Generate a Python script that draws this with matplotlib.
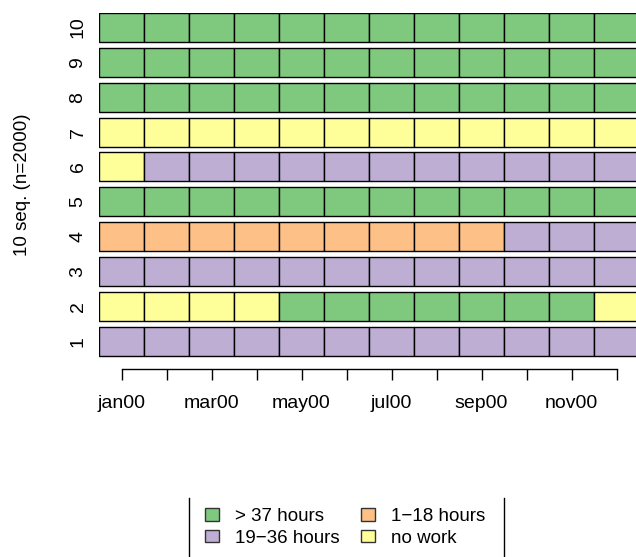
import numpy as np
import matplotlib
matplotlib.use('Agg')
import matplotlib.pyplot as plt
from matplotlib.patches import Patch
from matplotlib.lines import Line2D

plt.rcParams['font.family'] = ['Liberation Sans', 'DejaVu Sans']

# state alphabet and colours (Accent palette)
states = ['> 37 hours', '19\u221236 hours', '1\u221218 hours', 'no work']
state_cols = ['#7FC97F', '#BEAED4', '#FDC086', '#FFFF99']

months = ['jan00', 'feb00', 'mar00', 'apr00', 'may00', 'jun00',
          'jul00', 'aug00', 'sep00', 'oct00', 'nov00', 'dec00']

# one sequence per row, row 1 at the bottom; values index into states
G, P, O, Y = 0, 1, 2, 3
seq1 = [P] * 12
seq2 = [Y] * 4 + [G] * 7 + [Y]
seq3 = [P] * 12
seq4 = [O] * 9 + [P] * 3
seq5 = [G] * 12
seq6 = [Y] + [P] * 11
seq7 = [Y] * 12
seq8 = [G] * 12
seq9 = [G] * 12
seq10 = [G] * 12
seqs = [seq1, seq2, seq3, seq4, seq5, seq6, seq7, seq8, seq9, seq10]

fig = plt.figure(figsize=(6.36, 5.57), dpi=100)
ax = fig.add_axes([99 / 636, 1 - 361.5 / 557, 540 / 636, 348.5 / 557])

space = 0.2
for i, s in enumerate(seqs):
    bottom = space + i * (1 + space)
    for j, st in enumerate(s):
        ax.barh(bottom + 0.5, 1, left=j, height=1, color=state_cols[st],
                edgecolor='black', linewidth=1.0)

ax.set_xlim(0, 12)
ax.set_ylim(0, 12)
for sp in ['top', 'right', 'left']:
    ax.spines[sp].set_visible(False)
ax.spines['bottom'].set_position(('outward', 5.4))
ax.spines['bottom'].set_bounds(0.5, 11.5)
ax.spines['bottom'].set_linewidth(1.0)

ax.set_xticks(np.arange(12) + 0.5)
ax.set_xticklabels([m if k % 2 == 0 else '' for k, m in enumerate(months)], fontsize=14)
ax.tick_params(axis='x', direction='out', length=8, width=1.0, pad=11)

ax.set_yticks([space + i * (1 + space) + 0.5 for i in range(10)])
ax.set_yticklabels([str(i + 1) for i in range(10)], rotation=90, va='center', fontsize=14)
ax.tick_params(axis='y', length=0, pad=9)

fig.text(23 / 636, 1 - 185 / 557, '10 seq. (n=2000)', rotation=90,
         ha='center', va='center', fontsize=13.5)

handles = [Patch(facecolor=c, edgecolor='#333333', linewidth=1.0) for c in state_cols]
fig.legend(handles, states, ncol=2, loc='upper left',
           bbox_to_anchor=(205 / 636, 1 - 508 / 557), bbox_transform=fig.transFigure,
           frameon=False, fontsize=13.5, borderpad=0, borderaxespad=0,
           handlelength=0.75, handleheight=0.65, handletextpad=0.85,
           columnspacing=1.15, labelspacing=0.25)

fig.add_artist(Line2D([189 / 636, 189 / 636], [0, 1 - 498 / 557],
                      transform=fig.transFigure, color='black', linewidth=1.0))
fig.add_artist(Line2D([504 / 636, 504 / 636], [0, 1 - 498 / 557],
                      transform=fig.transFigure, color='black', linewidth=1.0))

fig.savefig('out.png', dpi=100)
